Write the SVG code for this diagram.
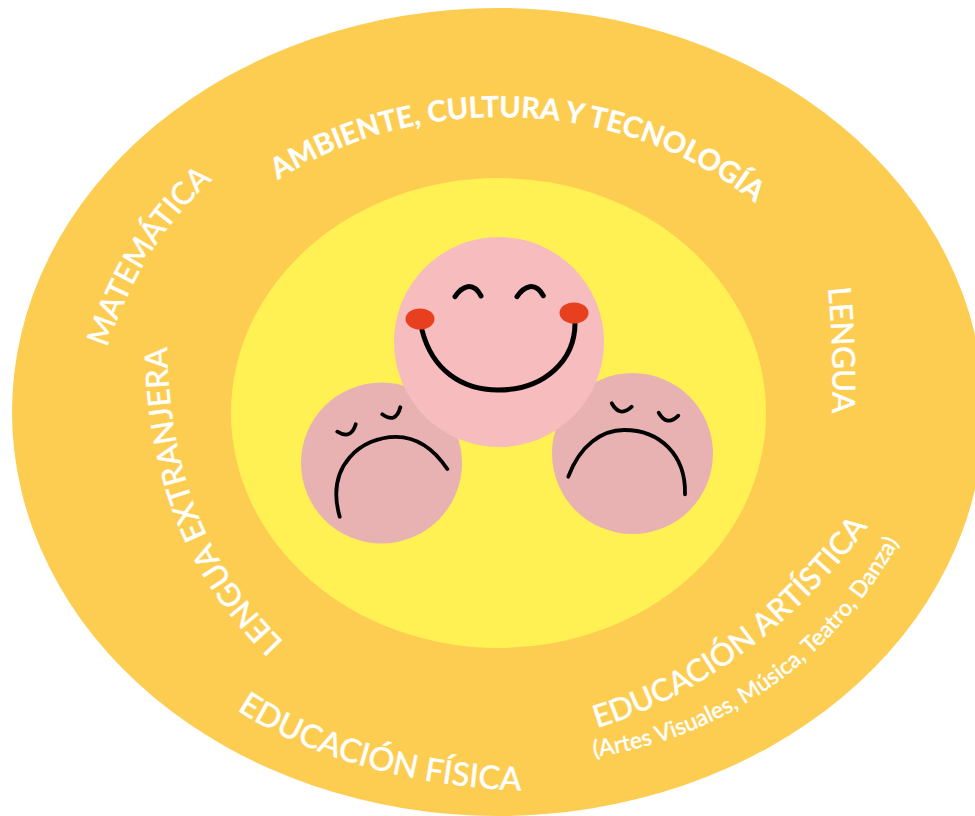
<svg xmlns="http://www.w3.org/2000/svg" width="975" height="816" viewBox="0 0 975 816">
<style>
.t{font-family:Lato,"Open Sans",sans-serif;fill:#fff;font-weight:500;stroke:#fff;stroke-width:.3}
.l{fill:none;stroke:#000;stroke-linecap:round}
</style>
<defs>
<path id="p1" d="M278 180A361 296 0 0 1 770 216"/>
<path id="p2" d="M107 348Q146.500 230 225 170"/>
<path id="p3" d="M284 642C227 585 168 500 167 340"/>
<path id="p4" d="M237 710C300 752 400 787 530 791"/>
<path id="p5" d="M828 288Q834 350 832 420"/>
<path id="p6" d="M597 728C690 700 795 632 880 510"/>
<path id="p7" d="M594 757C700 742 835 680 917 508"/>
</defs>
<rect width="975" height="816" fill="#fff"/>
<ellipse id="outer" cx="498" cy="412" rx="486" ry="404" fill="#fdcd52"/>
<ellipse id="inner" cx="498.500" cy="413" rx="267.500" ry="235" fill="#fff053"/>
<g id="sad-left">
<circle cx="381.500" cy="463" r="80.500" fill="#e8b2b3"/>
<path class="l" stroke-width="3.800" d="M337.300 431.700Q351 440 355.700 424.300M382.300 414.300Q396 424 400.300 407.300M339.700 516.700C325 465 362 437 396 436.800C417 437 434 449 447.300 469"/>
</g>
<g id="sad-right">
<circle cx="632.500" cy="453.500" r="80.500" fill="#e8b2b3"/>
<path class="l" stroke-width="3.800" d="M611.700 403.300Q620 418 631.700 406.700M658.700 412.700Q667 427 678.300 415.700M568.300 476.700C580 445 602 430 624 430C660 430 686 455 685 494.300"/>
</g>
<g id="happy">
<circle cx="499" cy="342" r="105" fill="#f6bcbe"/>
<path class="l" stroke-width="5" d="M422 330C432 370 462 390 498 390C545 390 575 360 575 323"/>
<path class="l" stroke-width="5" d="M455 296.700C462 286 473 281 481 296M517 296.700C524 286 535 281 543.300 295.700"/>
<ellipse cx="420" cy="319" rx="14.500" ry="10.500" fill="#e8401f"/>
<ellipse cx="574" cy="313" rx="14.500" ry="10.500" fill="#e8401f"/>
</g>
<g id="labels">
<text class="t" font-size="29" style="font-weight:700"><textPath href="#p1">AMBIENTE, CULTURA Y TECNOLOGÍA</textPath></text>
<text class="t" font-size="31"><textPath href="#p2">MATEMÁTICA</textPath></text>
<text class="t" font-size="31.300"><textPath href="#p3">LENGUA EXTRANJERA</textPath></text>
<text class="t" font-size="32.500"><textPath href="#p4">EDUCACIÓN FÍSICA</textPath></text>
<text class="t" font-size="31.500"><textPath href="#p5">LENGUA</textPath></text>
<text class="t" font-size="31"><textPath href="#p6">EDUCACIÓN ARTÍSTICA</textPath></text>
<text class="t" font-size="23"><textPath href="#p7">(Artes Visuales, Música, Teatro, Danza)</textPath></text>
</g>
</svg>
